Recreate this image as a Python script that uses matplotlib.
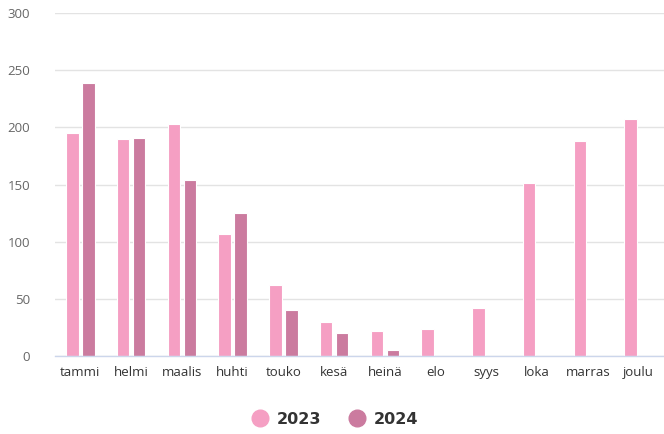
import matplotlib
matplotlib.use("Agg")
import matplotlib.pyplot as plt
import numpy as np
from matplotlib.lines import Line2D

plt.rcParams['font.family'] = ['Open Sans', 'DejaVu Sans']

months = ["tammi", "helmi", "maalis", "huhti", "touko", "kesä", "heinä", "elo", "syys", "loka", "marras", "joulu"]
values_2023 = [195, 190, 203, 107, 62, 30, 22, 24, 42, 151, 188, 207]
values_2024 = [239, 191, 154, 125, 40.5, 20, 5, np.nan, np.nan, np.nan, np.nan, np.nan]
series_names = ["2023", "2024"]
colors = ["#f59fc3", "#cb7b9f"]
yticks = [0, 50, 100, 150, 200, 250, 300]

fig = plt.figure(figsize=(6.64, 4.34), dpi=100)
ax = fig.add_axes([55/664, (434-356)/434, 609/664, 343/434])

x = np.arange(len(months))
w = 0.245
off = 0.158
ax.bar(x - off, values_2023, width=w, color=colors[0], edgecolor="white", linewidth=0.8, zorder=3)
ax.bar(x + off, values_2024, width=w, color=colors[1], edgecolor="white", linewidth=0.8, zorder=3)

ax.set_xlim(-0.5, len(months) - 0.5)
ax.set_ylim(0, 300)
ax.set_yticks(yticks)
ax.set_yticklabels([str(t) for t in yticks], color="#666666", fontsize=9.5)
ax.set_xticks(x)
ax.set_xticklabels(months, color="#333333", fontsize=9.5)
ax.tick_params(axis="both", length=0)
ax.tick_params(axis="y", pad=18)
ax.tick_params(axis="x", pad=7)
ax.grid(axis="y", color="#e3e3e3", linewidth=1, zorder=0)
for s in ["top", "right", "left"]:
    ax.spines[s].set_visible(False)
ax.spines["bottom"].set_color("#ccd6eb")
ax.spines["bottom"].set_linewidth(1)
ax.spines["bottom"].set_zorder(4)

handles = [Line2D([0], [0], marker="o", linestyle="", markersize=12, markerfacecolor=c, markeredgecolor=c) for c in colors]
leg = fig.legend(handles, series_names, loc="center", bbox_to_anchor=(335/664, 1 - 419/434), ncol=2,
                 frameon=False, handlelength=1.0, handletextpad=0.55, columnspacing=1.7,
                 prop={"family": "DejaVu Sans", "weight": "bold", "size": 11.5})
for t in leg.get_texts():
    t.set_color("#333333")

fig.savefig("out.png", dpi=100)
